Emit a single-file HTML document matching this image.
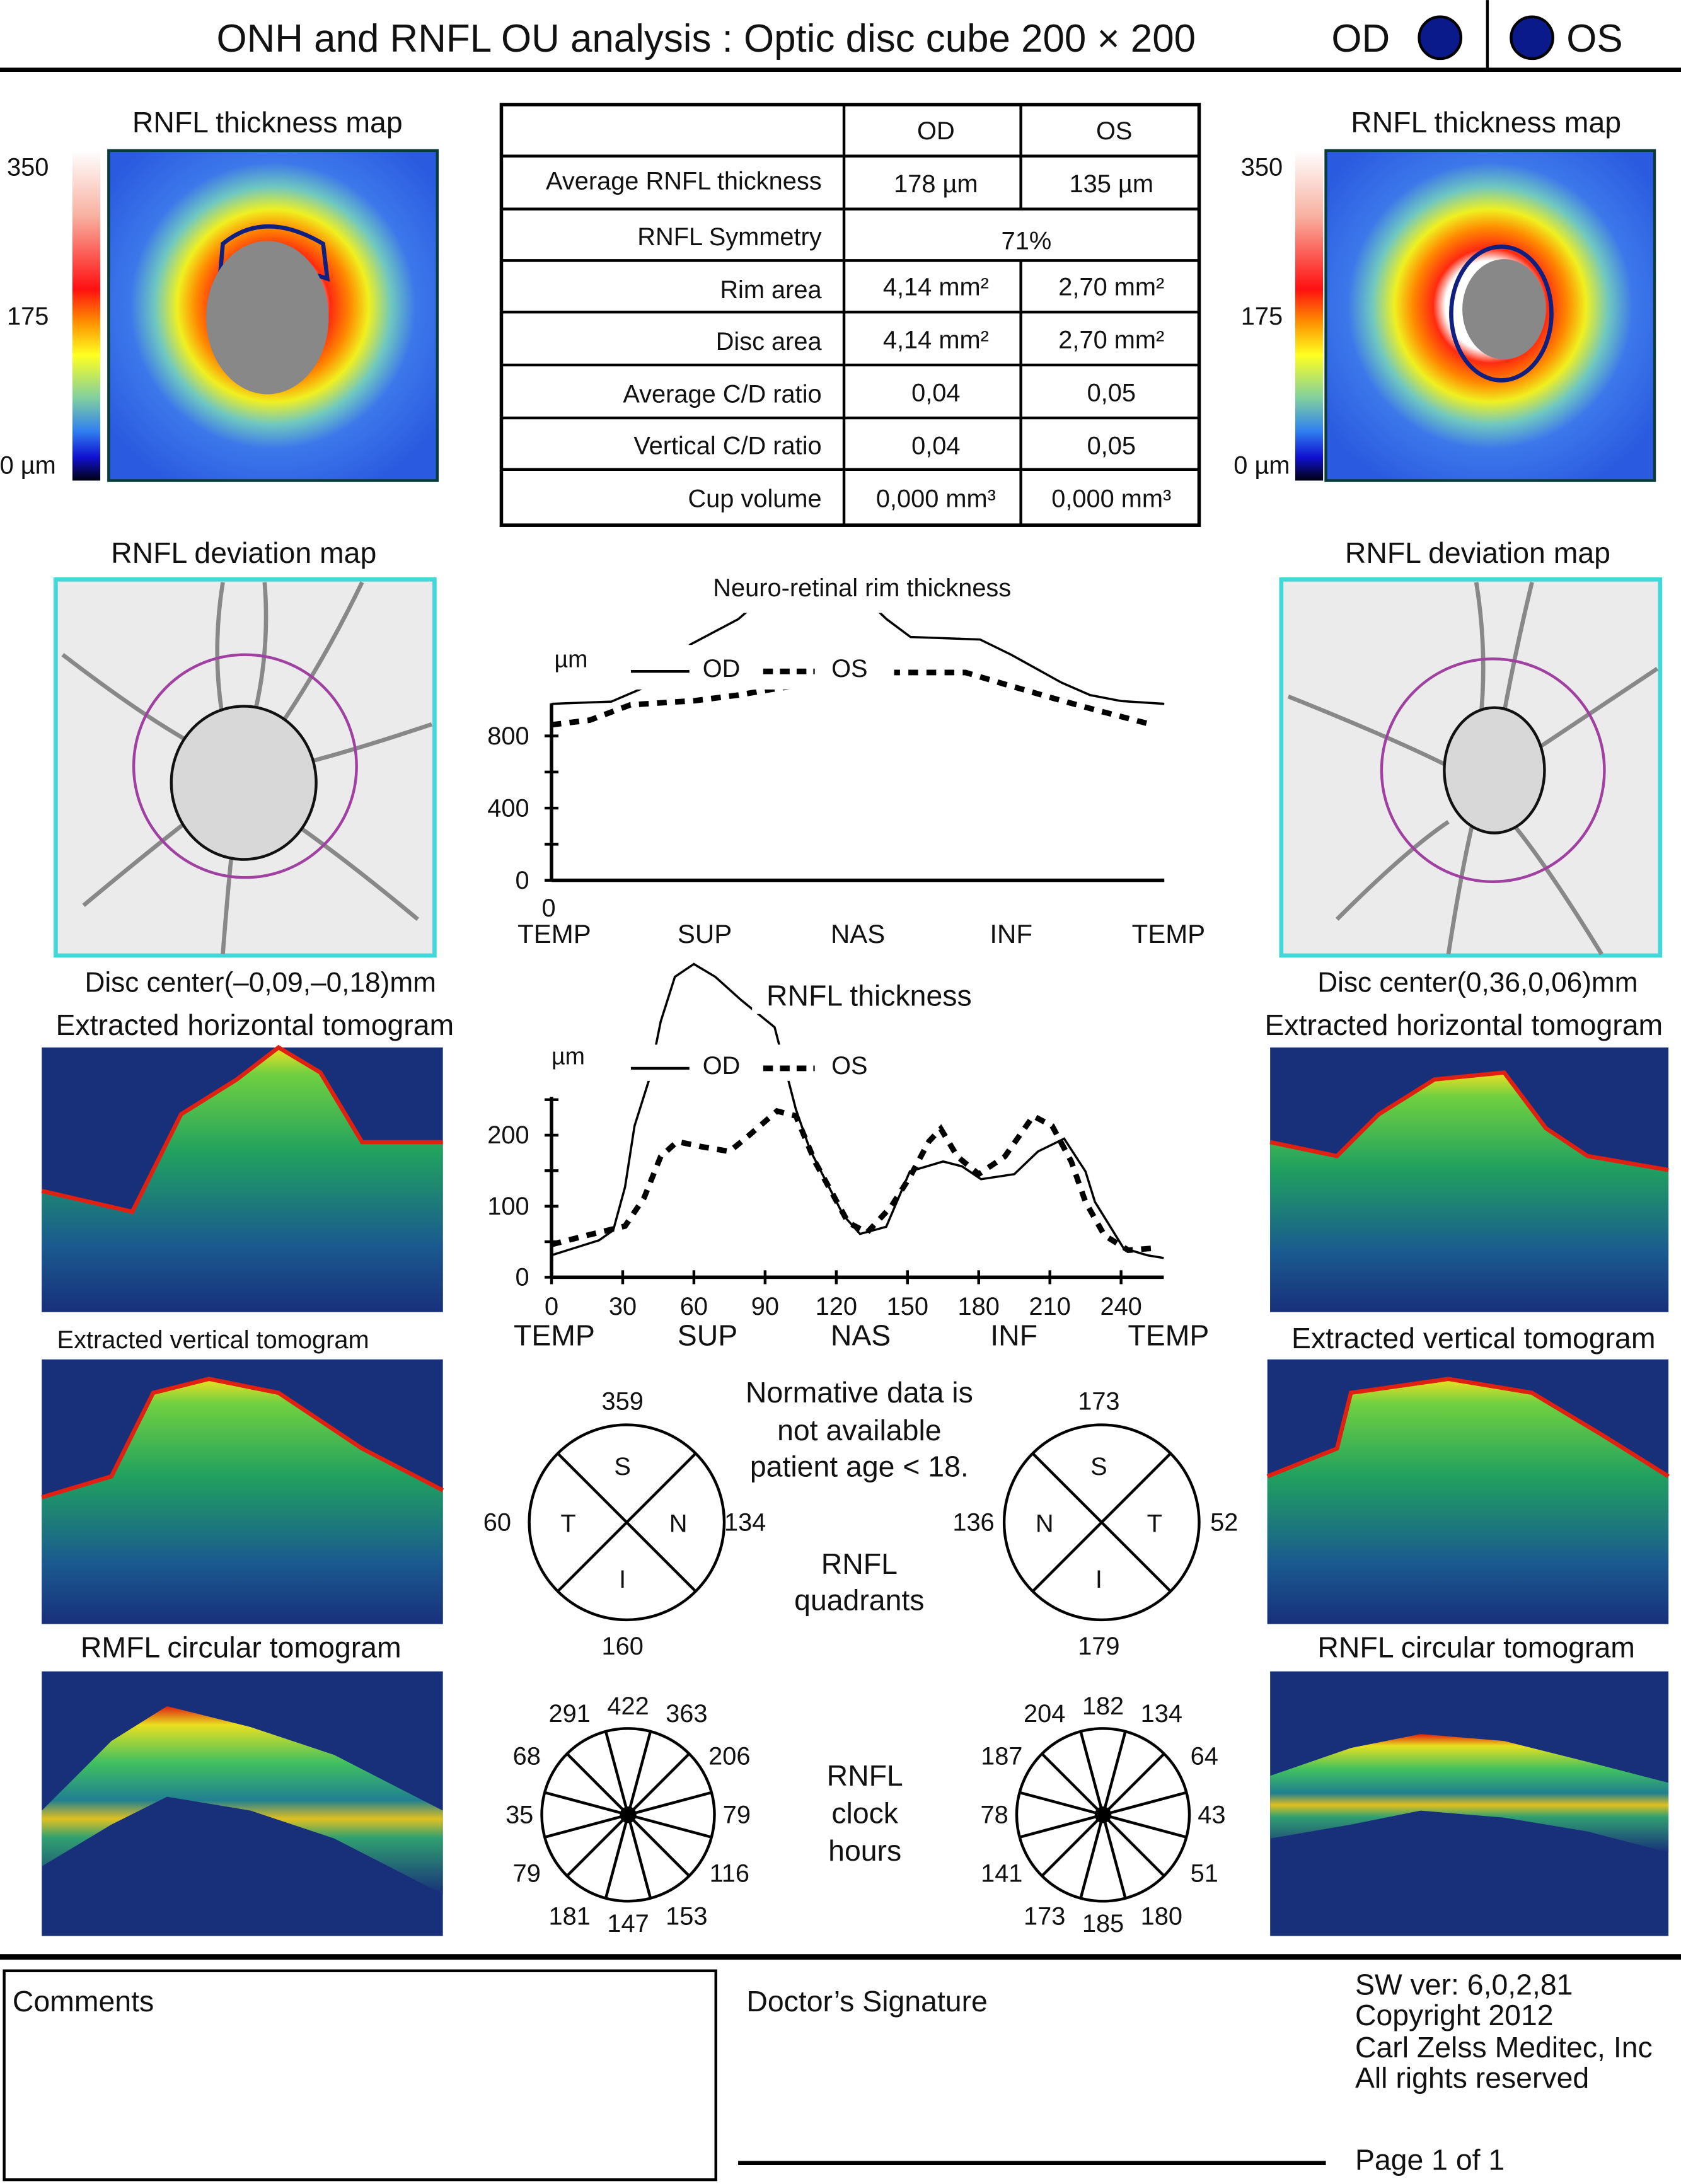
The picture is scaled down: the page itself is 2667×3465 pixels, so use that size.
<!DOCTYPE html>
<html><head><meta charset="utf-8"><style>
html,body{margin:0;padding:0;background:#fff;}
svg{display:block;}
text{font-family:"Liberation Sans",Arial,sans-serif;fill:#111;}
</style></head><body>
<svg id="root" width="2667" height="3465" viewBox="0 0 1207 1568" xmlns="http://www.w3.org/2000/svg">
<defs>
<linearGradient id="cbar" x1="0" y1="0" x2="0" y2="1">
<stop offset="0" stop-color="#ffffff"/><stop offset="0.2" stop-color="#f8b0a0"/><stop offset="0.42" stop-color="#ff1010"/><stop offset="0.52" stop-color="#ff9000"/><stop offset="0.62" stop-color="#ffff20"/><stop offset="0.75" stop-color="#80d0a0"/><stop offset="0.85" stop-color="#3080f0"/><stop offset="0.93" stop-color="#1010d0"/><stop offset="1" stop-color="#000010"/></linearGradient>
<radialGradient id="mapL" cx="0.5" cy="0.47" r="0.62">
<stop offset="0.22" stop-color="#ffffff"/><stop offset="0.28" stop-color="#ff2a10"/><stop offset="0.38" stop-color="#ff8a00"/><stop offset="0.47" stop-color="#f0f020"/><stop offset="0.58" stop-color="#70c8c0"/><stop offset="0.7" stop-color="#3c78ea"/><stop offset="1" stop-color="#2a5ae0"/></radialGradient>
<linearGradient id="tomo" x1="0" y1="0" x2="0" y2="1">
<stop offset="0" stop-color="#f0e020"/><stop offset="0.1" stop-color="#70d040"/><stop offset="0.4" stop-color="#20a060"/><stop offset="0.75" stop-color="#1a5a90"/><stop offset="1" stop-color="#18307a"/></linearGradient>
<linearGradient id="circ" x1="0" y1="0" x2="0" y2="1">
<stop offset="0" stop-color="#e02010"/><stop offset="0.1" stop-color="#e8e020"/><stop offset="0.3" stop-color="#40c060"/><stop offset="0.5" stop-color="#208090"/><stop offset="0.6" stop-color="#e0c020"/><stop offset="0.7" stop-color="#30a070"/><stop offset="1" stop-color="#18307a"/></linearGradient>
<clipPath id="rimClip"><rect x="380" y="440" width="470" height="200"/></clipPath>
</defs>

<text x="507" y="37" font-size="28" text-anchor="middle">ONH and RNFL OU analysis : Optic disc cube 200 × 200</text>
<text x="977" y="37" font-size="28" text-anchor="middle">OD</text>
<circle cx="1034" cy="27" r="15" fill="#0a1a8a" stroke="#000" stroke-width="2"/>
<line x1="1068" y1="0" x2="1068" y2="50" stroke="#000" stroke-width="2"/>
<circle cx="1100" cy="27" r="15" fill="#0a1a8a" stroke="#000" stroke-width="2"/>
<text x="1145" y="37" font-size="28" text-anchor="middle">OS</text>
<line x1="0" y1="50" x2="1207" y2="50" stroke="#000" stroke-width="3"/>

<g>
<text x="192" y="95" font-size="21" text-anchor="middle">RNFL thickness map</text>
<rect x="52" y="108" width="20" height="237" fill="url(#cbar)"/>
<text x="20" y="126" font-size="18" text-anchor="middle">350</text>
<text x="20" y="233" font-size="18" text-anchor="middle">175</text>
<text x="20" y="340" font-size="18" text-anchor="middle">0 µm</text>
<rect x="78" y="108" width="236" height="237" fill="url(#mapL)" stroke="#0a3a3a" stroke-width="2"/>
<path d="M160 175 Q190 150 232 175 L235 200 Q190 185 158 198 Z" fill="none" stroke="#102080" stroke-width="3"/>
<ellipse cx="192" cy="228" rx="44" ry="55" fill="#888"/>
</g>
<g>
<text x="1067" y="95" font-size="21" text-anchor="middle">RNFL thickness map</text>
<rect x="930" y="108" width="20" height="237" fill="url(#cbar)"/>
<text x="906" y="126" font-size="18" text-anchor="middle">350</text>
<text x="906" y="233" font-size="18" text-anchor="middle">175</text>
<text x="906" y="340" font-size="18" text-anchor="middle">0 µm</text>
<rect x="952" y="108" width="236" height="237" fill="url(#mapL)" stroke="#0a3a3a" stroke-width="2"/>
<ellipse cx="1078" cy="225" rx="36" ry="48" fill="none" stroke="#102080" stroke-width="3"/>
<ellipse cx="1080" cy="222" rx="30" ry="36" fill="#888"/>
</g>

<g font-size="18">
<rect x="360" y="75" width="501" height="302" fill="none" stroke="#000" stroke-width="2.5"/>
<line x1="606" y1="75" x2="606" y2="377" stroke="#000" stroke-width="2"/>
<line x1="733" y1="75" x2="733" y2="150" stroke="#000" stroke-width="2"/>
<line x1="733" y1="187" x2="733" y2="377" stroke="#000" stroke-width="2"/>
<g stroke="#000" stroke-width="2">
<line x1="360" y1="112" x2="861" y2="112"/><line x1="360" y1="150" x2="861" y2="150"/><line x1="360" y1="187" x2="861" y2="187"/><line x1="360" y1="224" x2="861" y2="224"/><line x1="360" y1="262" x2="861" y2="262"/><line x1="360" y1="300" x2="861" y2="300"/><line x1="360" y1="337" x2="861" y2="337"/></g>
<text x="672" y="100" text-anchor="middle">OD</text><text x="800" y="100" text-anchor="middle">OS</text>
<text x="590" y="136" text-anchor="end">Average RNFL thickness</text><text x="672" y="138" text-anchor="middle">178 µm</text><text x="798" y="138" text-anchor="middle">135 µm</text>
<text x="590" y="176" text-anchor="end">RNFL Symmetry</text><text x="737" y="179" text-anchor="middle">71%</text>
<text x="590" y="214" text-anchor="end">Rim area</text><text x="672" y="212" text-anchor="middle">4,14 mm²</text><text x="798" y="212" text-anchor="middle">2,70 mm²</text>
<text x="590" y="251" text-anchor="end">Disc area</text><text x="672" y="250" text-anchor="middle">4,14 mm²</text><text x="798" y="250" text-anchor="middle">2,70 mm²</text>
<text x="590" y="289" text-anchor="end">Average C/D ratio</text><text x="672" y="288" text-anchor="middle">0,04</text><text x="798" y="288" text-anchor="middle">0,05</text>
<text x="590" y="326" text-anchor="end">Vertical C/D ratio</text><text x="672" y="326" text-anchor="middle">0,04</text><text x="798" y="326" text-anchor="middle">0,05</text>
<text x="590" y="364" text-anchor="end">Cup volume</text><text x="672" y="364" text-anchor="middle">0,000 mm³</text><text x="798" y="364" text-anchor="middle">0,000 mm³</text>
</g>

<g>
<text x="175" y="404" font-size="21" text-anchor="middle">RNFL deviation map</text>
<rect x="40" y="416" width="272" height="270" fill="#ebebeb" stroke="#40d8d8" stroke-width="3"/>
<g stroke="#888" stroke-width="3" fill="none"><path d="M160 418 Q150 480 165 540"/><path d="M190 418 Q195 480 175 540"/><path d="M45 470 Q110 520 150 540"/><path d="M60 650 Q120 600 160 570"/><path d="M160 685 Q165 620 170 580"/><path d="M260 418 Q230 480 195 530"/><path d="M300 660 Q240 610 195 580"/><path d="M310 520 Q250 540 210 550"/></g>
<circle cx="176" cy="550" r="80" fill="none" stroke="#a040a0" stroke-width="2"/>
<ellipse cx="175" cy="562" rx="52" ry="55" fill="#d8d8d8" stroke="#111" stroke-width="2"/>
<text x="187" y="712" font-size="20" text-anchor="middle">Disc center(–0,09,–0,18)mm</text>
</g>
<g>
<text x="1061" y="404" font-size="21" text-anchor="middle">RNFL deviation map</text>
<rect x="920" y="416" width="272" height="270" fill="#ebebeb" stroke="#40d8d8" stroke-width="3"/>
<g stroke="#888" stroke-width="3" fill="none"><path d="M1060 418 Q1070 480 1060 540"/><path d="M1100 418 Q1085 480 1075 540"/><path d="M925 500 Q1000 530 1040 550"/><path d="M1190 480 Q1130 520 1100 540"/><path d="M1040 685 Q1050 620 1060 580"/><path d="M1150 685 Q1110 620 1085 590"/><path d="M960 660 Q1010 610 1040 590"/></g>
<circle cx="1072" cy="553" r="80" fill="none" stroke="#a040a0" stroke-width="2"/>
<ellipse cx="1073" cy="553" rx="36" ry="45" fill="#d8d8d8" stroke="#111" stroke-width="2"/>
<text x="1061" y="712" font-size="20" text-anchor="middle">Disc center(0,36,0,06)mm</text>
</g>

<g>
<text x="183" y="743" font-size="21" text-anchor="middle">Extracted horizontal tomogram</text>
<rect x="30" y="752" width="288" height="190" fill="#18307a"/>
<path d="M30 855 L95 870 L130 800 L170 775 L200 752 L230 770 L260 820 L318 820 L318 942 L30 942 Z" fill="url(#tomo)"/>
<path d="M30 855 L95 870 L130 800 L170 775 L200 752 L230 770 L260 820 L318 820" fill="none" stroke="#e02010" stroke-width="3"/>
</g>
<g>
<text x="1051" y="743" font-size="21" text-anchor="middle">Extracted horizontal tomogram</text>
<rect x="912" y="752" width="286" height="190" fill="#18307a"/>
<path d="M912 820 L960 830 L990 800 L1030 775 L1080 770 L1110 810 L1140 830 L1198 840 L1198 942 L912 942 Z" fill="url(#tomo)"/>
<path d="M912 820 L960 830 L990 800 L1030 775 L1080 770 L1110 810 L1140 830 L1198 840" fill="none" stroke="#e02010" stroke-width="3"/>
</g>
<g>
<text x="153" y="968" font-size="18" text-anchor="middle">Extracted vertical tomogram</text>
<rect x="30" y="976" width="288" height="190" fill="#18307a"/>
<path d="M30 1075 L80 1060 L110 1000 L150 990 L200 1000 L260 1040 L318 1070 L318 1166 L30 1166 Z" fill="url(#tomo)"/>
<path d="M30 1075 L80 1060 L110 1000 L150 990 L200 1000 L260 1040 L318 1070" fill="none" stroke="#e02010" stroke-width="3"/>
</g>
<g>
<text x="1058" y="968" font-size="21" text-anchor="middle">Extracted vertical tomogram</text>
<rect x="910" y="976" width="288" height="190" fill="#18307a"/>
<path d="M910 1060 L960 1040 L970 1000 L1040 990 L1100 1000 L1150 1030 L1198 1060 L1198 1166 L910 1166 Z" fill="url(#tomo)"/>
<path d="M910 1060 L960 1040 L970 1000 L1040 990 L1100 1000 L1150 1030 L1198 1060" fill="none" stroke="#e02010" stroke-width="3"/>
</g>
<g>
<text x="173" y="1190" font-size="21" text-anchor="middle">RMFL circular tomogram</text>
<rect x="30" y="1200" width="288" height="190" fill="#18307a"/>
<path d="M30 1300 L80 1250 L120 1225 L180 1240 L240 1260 L318 1300 L318 1360 L240 1320 L180 1300 L120 1290 L80 1310 L30 1340 Z" fill="url(#circ)"/>
</g>
<g>
<text x="1060" y="1190" font-size="21" text-anchor="middle">RNFL circular tomogram</text>
<rect x="912" y="1200" width="286" height="190" fill="#18307a"/>
<path d="M912 1275 L970 1255 L1020 1245 L1080 1250 L1140 1265 L1198 1280 L1198 1330 L1140 1315 L1080 1305 L1020 1300 L970 1310 L912 1320 Z" fill="url(#circ)"/>
</g>

<g>
<text x="619" y="428" font-size="18" text-anchor="middle">Neuro-retinal rim thickness</text>
<g id="rimMarks" clip-path="url(#rimClip)"></g>
<rect x="432" y="463" width="210" height="32" fill="#fff"/>
<text x="410" y="479" font-size="17" text-anchor="middle">µm</text>
<line x1="453" y1="482" x2="495" y2="482" stroke="#000" stroke-width="2"/>
<text x="518" y="486" font-size="18" text-anchor="middle">OD</text>
<line x1="548" y1="482" x2="585" y2="482" stroke="#000" stroke-width="4" stroke-dasharray="7,5"/>
<text x="610" y="486" font-size="18" text-anchor="middle">OS</text>
<g id="rimAxes"></g>
</g>

<g>
<g id="rnflMarks"></g>
<rect x="540" y="700" width="170" height="28" fill="#fff"/>
<text x="624" y="722" font-size="21" text-anchor="middle">RNFL thickness</text>
<rect x="440" y="750" width="200" height="26" fill="#fff"/>
<text x="408" y="764" font-size="17" text-anchor="middle">µm</text>
<line x1="453" y1="767" x2="495" y2="767" stroke="#000" stroke-width="2"/>
<text x="518" y="771" font-size="18" text-anchor="middle">OD</text>
<line x1="548" y1="767" x2="585" y2="767" stroke="#000" stroke-width="4" stroke-dasharray="7,5"/>
<text x="610" y="771" font-size="18" text-anchor="middle">OS</text>
<g id="rnflAxes"></g>
</g>

<g font-size="18">
<circle cx="450" cy="1093" r="70" fill="none" stroke="#000" stroke-width="2"/>
<line x1="400.5" y1="1043.5" x2="499.5" y2="1142.5" stroke="#000" stroke-width="2"/><line x1="499.5" y1="1043.5" x2="400.5" y2="1142.5" stroke="#000" stroke-width="2"/>
<text x="447" y="1059" text-anchor="middle">S</text><text x="408" y="1100" text-anchor="middle">T</text><text x="487" y="1100" text-anchor="middle">N</text><text x="447" y="1140" text-anchor="middle">I</text>
<text x="447" y="1012" text-anchor="middle">359</text><text x="357" y="1099" text-anchor="middle">60</text><text x="535" y="1099" text-anchor="middle">134</text><text x="447" y="1188" text-anchor="middle">160</text>
</g>
<g font-size="18">
<circle cx="791" cy="1093" r="70" fill="none" stroke="#000" stroke-width="2"/>
<line x1="741.5" y1="1043.5" x2="840.5" y2="1142.5" stroke="#000" stroke-width="2"/><line x1="840.5" y1="1043.5" x2="741.5" y2="1142.5" stroke="#000" stroke-width="2"/>
<text x="789" y="1059" text-anchor="middle">S</text><text x="750" y="1100" text-anchor="middle">N</text><text x="829" y="1100" text-anchor="middle">T</text><text x="789" y="1140" text-anchor="middle">I</text>
<text x="789" y="1012" text-anchor="middle">173</text><text x="699" y="1099" text-anchor="middle">136</text><text x="879" y="1099" text-anchor="middle">52</text><text x="789" y="1188" text-anchor="middle">179</text>
</g>
<g font-size="21" text-anchor="middle">
<text x="617" y="1007">Normative data is</text><text x="617" y="1034">not available</text><text x="617" y="1060">patient age &lt; 18.</text>
<text x="617" y="1130">RNFL</text><text x="617" y="1156">quadrants</text>
<text x="621" y="1282">RNFL</text><text x="621" y="1309">clock</text><text x="621" y="1336">hours</text>
</g>
<g id="clocks"></g>

<line x1="0" y1="1405" x2="1207" y2="1405" stroke="#000" stroke-width="4"/>
<rect x="3" y="1415" width="511" height="150" fill="none" stroke="#000" stroke-width="2"/>
<text x="9" y="1444" font-size="21">Comments</text>
<text x="536" y="1444" font-size="21">Doctor’s Signature</text>
<line x1="530" y1="1553" x2="952" y2="1553" stroke="#000" stroke-width="3"/>
<g font-size="21">
<text x="973" y="1432">SW ver: 6,0,2,81</text><text x="973" y="1454">Copyright 2012</text><text x="973" y="1477">Carl Zelss Meditec, Inc</text><text x="973" y="1499">All rights reserved</text>
<text x="973" y="1558">Page 1 of 1</text></g>
</svg>
<script>
var NS = "http://www.w3.org/2000/svg";
var rimOdAngles = [0,25,40,58,78,100,120,140,150,179,192,213,225,238,256];
var rimOdValues = [978,990,1076,1306,1447,1700,1700,1447,1348,1334,1250,1096,1026,993,978];
var rimOsAngles = [0,16,33,60,78,92,140,173,189,209,228,251];
var rimOsValues = [862,887,972,995,1026,1058,1151,1151,1088,1011,941,862];
var rimYTicks = [0,200,400,600,800];
var rimYLabels = ["0","400","800"];
var rimXLabels = ["TEMP","SUP","NAS","INF","TEMP"];
var rnflOdAngles = [0,20,26,31,35,41,46,52,60,69,80,94,103,109,123,130,141,151,165,173,181,195,205,216,225,229,241,251,258];
var rnflOdValues = [31,52,66,127,213,277,360,423,441,423,390,352,236,179,87,61,71,149,163,156,138,145,177,195,149,106,41,31,27];
var rnflOsAngles = [0,15,31,39,46,53,63,75,83,95,103,111,125,133,143,151,159,164,171,180,191,203,211,219,225,233,243,254];
var rnflOsValues = [46,59,72,112,170,191,184,177,199,234,227,163,77,63,99,141,191,209,170,145,170,227,213,163,106,59,38,41];
var rnflXTicks = [0,30,60,90,120,150,180,210,240];
var rnflYTicks = [0,50,100,150,200,250];
var rnflYLabels = [0,100,200];
var rnflXLabels = ["TEMP","SUP","NAS","INF","TEMP"];
var odClock = [422,363,206,79,116,153,147,181,79,35,68,291];
var osClock = [182,134,64,43,51,180,185,173,141,78,187,204];

function rimX(a){return 396 + a*440/256;}
function rimY(v){return 632 - v*0.1296;}
function rnflX(a){return 396 + a*1.704;}
function rnflY(v){return 917 - v*0.51;}
function el(tag, attrs, parent){var e=document.createElementNS(NS,tag);for(var k in attrs)e.setAttribute(k,attrs[k]);parent.appendChild(e);return e;}
function pathD(xs, ys, fx, fy){var d="";for(var i=0;i<xs.length;i++)d+=(i?"L":"M")+fx(xs[i]).toFixed(1)+" "+fy(ys[i]).toFixed(1);return d;}

var rimMarks=document.getElementById("rimMarks");
var p1=el("path",{d:pathD(rimOdAngles,rimOdValues,rimX,rimY),fill:"none",stroke:"#000","stroke-width":1.6},rimMarks);


var p2=el("path",{d:pathD(rimOsAngles,rimOsValues,rimX,rimY),fill:"none",stroke:"#000","stroke-width":4,"stroke-dasharray":"7,6"},rimMarks);


var rimAxes=document.getElementById("rimAxes");
var ax=el("line",{x1:396,y1:rimY(0),x2:836,y2:rimY(0),stroke:"#000","stroke-width":2.5},rimAxes);


var ay=el("line",{x1:396,y1:rimY(0),x2:396,y2:rimY(980),stroke:"#000","stroke-width":2.5},rimAxes);


rimYTicks.forEach(function(v){var t=el("line",{x1:391,y1:rimY(v),x2:401,y2:rimY(v),stroke:"#000","stroke-width":2},rimAxes);

});
rimYLabels.forEach(function(s){var t=el("text",{x:380,y:rimY(+s)+6,"font-size":18,"text-anchor":"end"},rimAxes);t.textContent=s;

});
var z=el("text",{x:394,y:658,"font-size":18,"text-anchor":"middle"},rimAxes);z.textContent="0";


rimXLabels.forEach(function(s,i){var t=el("text",{x:rimX(i*64)+(i==0?2:i==4?3:0),y:677,"font-size":19,"text-anchor":"middle"},rimAxes);t.textContent=s;

});

var rnflMarks=document.getElementById("rnflMarks");
var q1=el("path",{d:pathD(rnflOdAngles,rnflOdValues,rnflX,rnflY),fill:"none",stroke:"#000","stroke-width":1.6},rnflMarks);


var q2=el("path",{d:pathD(rnflOsAngles,rnflOsValues,rnflX,rnflY),fill:"none",stroke:"#000","stroke-width":4,"stroke-dasharray":"7,6"},rnflMarks);


var rnflAxes=document.getElementById("rnflAxes");
var bx=el("line",{x1:396,y1:rnflY(0),x2:rnflX(258),y2:rnflY(0),stroke:"#000","stroke-width":2.5},rnflAxes);


var by=el("line",{x1:396,y1:rnflY(0),x2:396,y2:rnflY(254),stroke:"#000","stroke-width":2.5},rnflAxes);


rnflYTicks.forEach(function(v){var t=el("line",{x1:391,y1:rnflY(v),x2:401,y2:rnflY(v),stroke:"#000","stroke-width":2},rnflAxes);

});
rnflYLabels.forEach(function(v){var t=el("text",{x:380,y:rnflY(v)+6,"font-size":18,"text-anchor":"end"},rnflAxes);t.textContent=v;

});
rnflXTicks.forEach(function(a){var t=el("line",{x1:rnflX(a),y1:rnflY(0)-5,x2:rnflX(a),y2:rnflY(0)+5,stroke:"#000","stroke-width":2},rnflAxes);


var l=el("text",{x:rnflX(a),y:944,"font-size":18,"text-anchor":"middle"},rnflAxes);l.textContent=a;

});
rnflXLabels.forEach(function(s,i){var t=el("text",{x:[398,508,618,728,839][i],y:966,"font-size":21,"text-anchor":"middle"},rnflAxes);t.textContent=s;

});

var clocks=document.getElementById("clocks");
function clock(cx,cy,vals,name){
  var g=el("g",{},clocks);
  
  
  el("circle",{cx:cx,cy:cy,r:62,fill:"none",stroke:"#000","stroke-width":2},g);
  for(var i=0;i<12;i++){var a=(i*30+15)*Math.PI/180;
    el("line",{x1:cx,y1:cy,x2:cx+62*Math.sin(a),y2:cy-62*Math.cos(a),stroke:"#000","stroke-width":2},g);}
  el("circle",{cx:cx,cy:cy,r:6,fill:"#000"},g);
  vals.forEach(function(v,i){var a=i*30*Math.PI/180;var r=(i%3==0)?78:84;
    var t=el("text",{x:cx+r*Math.sin(a),y:cy-r*Math.cos(a)+6,"font-size":18,"text-anchor":"middle"},g);t.textContent=v;
    
    });
}
clock(451,1303,odClock,'od-clock-hours');
clock(792,1303,osClock,'os-clock-hours');
</script>
</body></html>
